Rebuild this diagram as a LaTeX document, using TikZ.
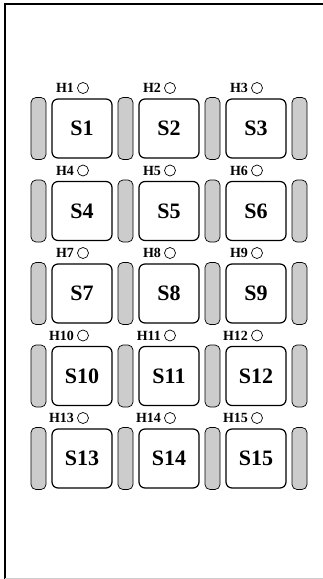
\documentclass[tikz,border=0pt]{standalone}
\usepackage{fontspec}
\setmainfont{Liberation Serif}
\usetikzlibrary{positioning}

\begin{document}
\begin{tikzpicture}[
            x = 1pt, y = -1pt, % pixel grid, y runs downwards
            slot/.style = {
                draw, rounded corners = 6pt, line width = 1.2pt,
                minimum width = 60pt, minimum height = 59pt,
                font = \fontsize{22}{22}\selectfont\bfseries
            },
            rail/.style = {
                draw, fill = black!20, rounded corners = 5pt, line width = 0.7pt,
                minimum width = 15pt, minimum height = 62pt
            },
            tag/.style = {font = \fontsize{14}{14}\selectfont\bfseries, inner sep = 0pt},
            led/.style = {draw, circle, minimum size = 11pt, inner sep = 0pt, line width = 0.7pt}
        ]

        \useasboundingbox (0,0) rectangle (323,579);

        % outer frame
        \draw[line width = 1.8pt] (5,590) -- (5,4) -- (335,4);
        \draw[black!20, line width = 1pt] (5,578) -- (335,578);

        % slots with their indicator and tag
        \foreach \r in {0,...,4} {
            \foreach \c in {0,...,2} {
                \pgfmathtruncatemacro\n{3*\r+\c+1}
                \node[slot] (s\n) at (82+87*\c, 128.5+82.5*\r) {S\n};
                \node[led] (l\n) at (83+87*\c, 88+82.5*\r) {};
                \node[tag, left = 3pt of l\n] (h\n) {H\n};
            }
            % grey rails between the slots
            \foreach \k in {0,...,3} {
                \node[rail] (r\r-\k) at (38.5+87*\k, 128.5+82.5*\r) {};
            }
        }
    \end{tikzpicture}
\end{document}
